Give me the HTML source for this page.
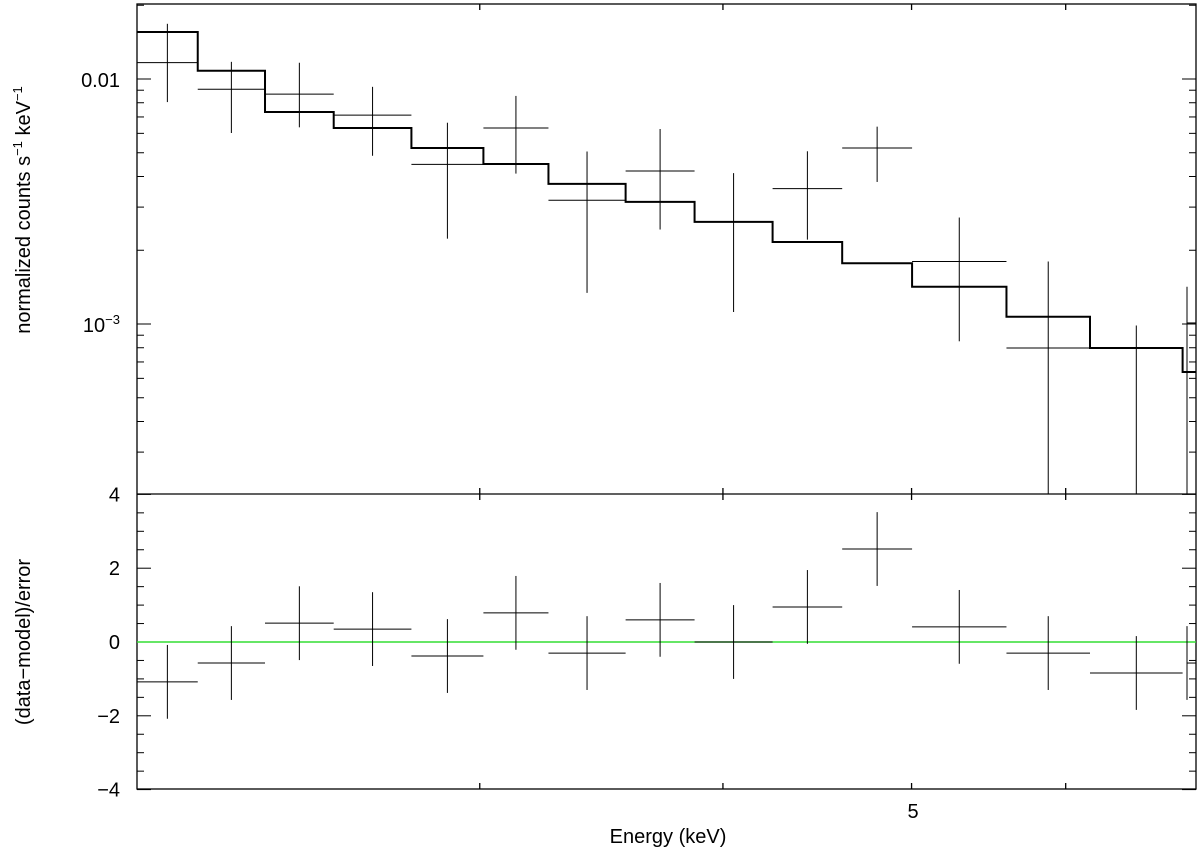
<!DOCTYPE html>
<html><head><meta charset="utf-8"><style>
body{margin:0;background:#fff}
svg{display:block;font-family:"Liberation Sans",sans-serif}
</style></head><body>
<svg id="c" width="1200" height="850"></svg>
<script>
const edges=[2.0,2.149,2.327,2.524,2.767,3.013,3.254,3.565,3.868,4.242,4.606,5.003,5.594,6.175,6.89,7.05];
const dataVals=[0.01166,0.00908,0.00867,0.00712,0.00448,0.00631,0.00320,0.00421,0.00261,0.00357,0.00523,0.00180,0.000798,0.000798,0.00101];
const dataHi=[0.0168,0.01175,0.01165,0.00929,0.00663,0.00853,0.00506,0.00625,0.00413,0.00507,0.00639,0.00272,0.00180,0.000986,0.00142];
const dataLo=[0.00805,0.00602,0.00635,0.00486,0.00223,0.00411,0.00134,0.00243,0.00112,0.00221,0.00380,0.00085,0.0001,0.0001,0.0001];
const modelVals=[0.01556,0.0108,0.00733,0.00631,0.00523,0.0045,0.00373,0.00315,0.00261,0.00216,0.00177,0.00142,0.00107,0.000798,0.000637];
const resid=[-1.08,-0.57,0.51,0.35,-0.38,0.79,-0.30,0.60,0.0,0.95,2.52,0.41,-0.30,-0.84,-0.57];
const xTicks=[3,4,5,6];
const L=137,R=1196,T=4,M=494,B=789;
const xmin=2,xmax=7;
const X=e=>L+(Math.log10(e)-Math.log10(xmin))/(Math.log10(xmax)-Math.log10(xmin))*(R-L);
const Y=v=>79-(Math.log10(v)+2)*245;
const YR=r=>642-r*36.9;
const svg=document.getElementById('c');
const NS='http://www.w3.org/2000/svg';
function el(t,a){const e=document.createElementNS(NS,t);for(const k in a)e.setAttribute(k,a[k]);svg.appendChild(e);return e;}
function line(x1,y1,x2,y2,w,c){return el('line',{x1,y1,x2,y2,stroke:c||'#000','stroke-width':w||1});}
function clampT(y){return Math.max(T,Math.min(M,y));}
let f=el('rect',{x:L,y:T,width:R-L,height:B-T,fill:'none',stroke:'#000','stroke-width':1.3});

let d=line(L,M,R,M,1.3);
xTicks.forEach(e=>{const x=X(e);line(x,M-6,x,M+6,1.3);line(x,T,x,T+6,1.3);line(x,B,x,B-6,1.3);});
for(let dec=-4;dec<=-2;dec++)for(let m=1;m<10;m++){const v=m*Math.pow(10,dec);const y=Y(v);if(y<T||y>M)continue;const len=m==1?14:7;line(L,y,L+len,y);line(R,y,R-len,y);}
function txt(x,y,s,a,name,size){const t=el('text',{x,y,'font-size':size||20,'text-anchor':a||'middle',fill:'#000'});t.textContent=s;return t;}
txt(120,87,'0.01','end','y-tick-0.01');
let t2=el('text',{x:120,y:332,'font-size':20,'text-anchor':'end'});t2.innerHTML='10<tspan dy="-8" font-size="13">−3</tspan>';
for(let r=-4;r<=4;r+=0.5){const y=YR(r);const len=(r%2==0)?14:7;line(L,y,L+len,y);line(R,y,R-len,y);}
[4,2,0,-2,-4].forEach(r=>txt(120,YR(r)+7,r<0?'−'+(-r):String(r),'end','y-tick-resid-'+r));
txt(913,818,'5','middle','x-tick-5');
txt(668,843,'Energy (keV)','middle','x-axis-title');
let yt=el('text',{x:0,y:0,'font-size':20,'text-anchor':'middle',transform:'translate(30,210) rotate(-90)'});
yt.innerHTML='normalized counts s<tspan dy="-8" font-size="13">−1</tspan><tspan dy="8"> keV</tspan><tspan dy="-8" font-size="13">−1</tspan>';

let yb=txt(0,0,'(data−model)/error','middle','y-axis-title-bottom');yb.setAttribute('transform','translate(30,642) rotate(-90)');
let p='';modelVals.forEach((v,i)=>{const x1=X(edges[i]),x2=Math.min(R,X(edges[i+1])),y=Y(v);p+=(i==0?'M':'L')+x1+' '+y+' L'+x2+' '+y+' ';});
let mp=el('path',{d:p,fill:'none',stroke:'#000','stroke-width':2});

dataVals.forEach((v,i)=>{const x1=X(edges[i]),x2=Math.min(R,X(edges[i+1])),xc=X(Math.sqrt(edges[i]*edges[i+1]));const xcc=Math.min(xc,R-9);
 const g=document.createElementNS(NS,'g');svg.appendChild(g);
 const a=line(xcc===xc?x1:xcc,Y(v),x2,Y(v));const b=line(xcc,clampT(Y(dataHi[i])),xcc,clampT(Y(dataLo[i])));g.appendChild(a);g.appendChild(b);});
let z=line(L,YR(0),R,YR(0),1.5,'#33dd33');
resid.forEach((r,i)=>{const x1=X(edges[i]),x2=Math.min(R,X(edges[i+1])),xc=X(Math.sqrt(edges[i]*edges[i+1]));const xcc=Math.min(xc,R-9);
 const g=document.createElementNS(NS,'g');svg.appendChild(g);
 g.appendChild(line(xcc===xc?x1:xcc,YR(r),x2,YR(r)));g.appendChild(line(xcc,YR(r+1),xcc,YR(r-1)));});
</script>
</body></html>
